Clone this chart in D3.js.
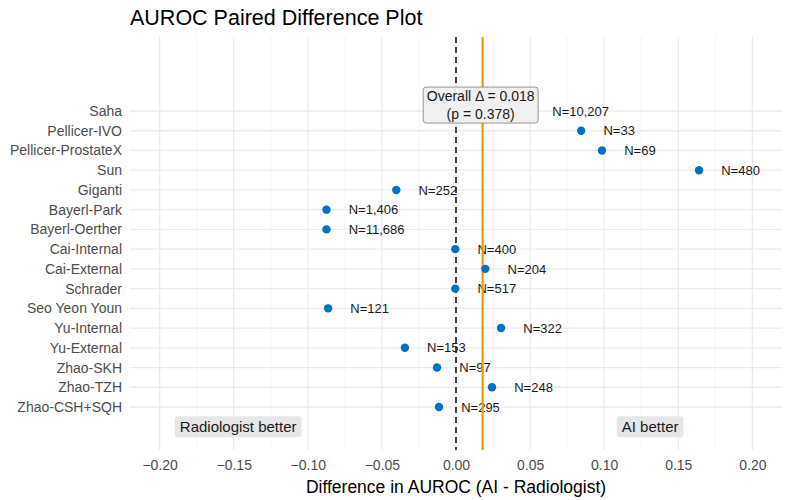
<!DOCTYPE html>
<html>
<head>
<meta charset="utf-8">
<script src="https://cdn.jsdelivr.net/npm/d3@7"></script>
<style>
  html, body { margin: 0; padding: 0; background: #fff; }
  svg { display: block; font-family: "Liberation Sans", Arial, sans-serif; }
</style>
</head>
<body>
<svg id="chart" width="794" height="500"></svg>
<script>
// ---- data ----
const studies = ["Saha", "Pellicer-IVO", "Pellicer-ProstateX", "Sun", "Giganti", "Bayerl-Park",
  "Bayerl-Oerther", "Cai-Internal", "Cai-External", "Schrader", "Seo Yeon Youn", "Yu-Internal",
  "Yu-External", "Zhao-SKH", "Zhao-TZH", "Zhao-CSH+SQH"];
const diffs = [0.050, 0.0845, 0.0985, 0.164, -0.0403, -0.0874, -0.0874, -0.0005, 0.0198, -0.0005,
  -0.0863, 0.0304, -0.0345, -0.0128, 0.0243, -0.0115];
const sampleLabels = ["N=10,207", "N=33", "N=69", "N=480", "N=252", "N=1,406", "N=11,686", "N=400",
  "N=204", "N=517", "N=121", "N=322", "N=153", "N=97", "N=248", "N=295"];
const xTicks = [-0.20, -0.15, -0.10, -0.05, 0.00, 0.05, 0.10, 0.15, 0.20];
const xMinorTicks = [-0.175, -0.125, -0.075, -0.025, 0.025, 0.075, 0.125, 0.175];
const overallDelta = 0.018;
const overallP = 0.378;
const sideLabels = [{text: "Radiologist better", x: -0.147}, {text: "AI better", x: 0.131}];

// ---- layout ----
const svg = d3.select("#chart");
const panel = {left: 130, right: 782, top: 37, bottom: 450};

const x = d3.scaleLinear().domain([-0.22, 0.22]).range([panel.left, panel.right]);
const y = d3.scalePoint().domain(studies).range([111, 407]);
// continuous position scale (1 = bottom category, 16 = top category)
const yPos = d3.scaleLinear().domain([1, studies.length]).range([407, 111]);

const data = studies.map((s, i) => ({study: s, diff: diffs[i], label: sampleLabels[i]}));

// gridlines
const g = svg.append("g");
g.selectAll(".minor").data(xMinorTicks).join("line")
  .attr("x1", d => x(d)).attr("x2", d => x(d))
  .attr("y1", panel.top).attr("y2", panel.bottom)
  .attr("stroke", "#f1f1f1").attr("stroke-width", 0.8);
g.selectAll(".major").data(xTicks).join("line")
  .attr("x1", d => x(d)).attr("x2", d => x(d))
  .attr("y1", panel.top).attr("y2", panel.bottom)
  .attr("stroke", "#ebebeb").attr("stroke-width", 1.3);
g.selectAll(".hgrid").data(studies).join("line")
  .attr("x1", panel.left).attr("x2", panel.right)
  .attr("y1", d => y(d)).attr("y2", d => y(d))
  .attr("stroke", "#ebebeb").attr("stroke-width", 1.3);

// x axis tick labels
const xAxis = d3.axisBottom(x).tickValues(xTicks).tickFormat(d3.format(".2f")).tickSize(0).tickPadding(0);
const xa = svg.append("g").attr("transform", `translate(0,${panel.bottom + 9})`).call(xAxis);
xa.select(".domain").remove();
xa.selectAll("text").attr("font-size", 14).attr("fill", "#4d4d4d")
  .attr("font-family", "Liberation Sans, Arial, sans-serif").attr("dy", "0.75em");

// y axis labels
const yAxis = d3.axisLeft(y).tickSize(0).tickPadding(8);
const ya = svg.append("g").attr("transform", `translate(${panel.left},0)`).call(yAxis);
ya.select(".domain").remove();
ya.selectAll("text").attr("font-size", 14).attr("fill", "#4d4d4d")
  .attr("font-family", "Liberation Sans, Arial, sans-serif");

// N labels
svg.append("g").selectAll("text").data(data).join("text")
  .attr("x", d => x(d.diff + 0.015)).attr("y", d => y(d.study))
  .attr("dy", "0.36em").attr("font-size", 13).attr("fill", "#1a1a1a")
  .text(d => d.label);

// reference lines
svg.append("line").attr("x1", x(0)).attr("x2", x(0))
  .attr("y1", panel.top).attr("y2", panel.bottom)
  .attr("stroke", "#1a1a1a").attr("stroke-width", 1.6).attr("stroke-dasharray", "6,4");
svg.append("line").attr("x1", x(overallDelta)).attr("x2", x(overallDelta))
  .attr("y1", panel.top).attr("y2", panel.bottom)
  .attr("stroke", "#E69F00").attr("stroke-width", 2.2);

// points
svg.append("g").selectAll("circle").data(data).join("circle")
  .attr("cx", d => x(d.diff)).attr("cy", d => y(d.study)).attr("r", 4.2)
  .attr("fill", "#0072C6");

// overall label box
const ob = svg.append("g");
const obx = x(overallDelta) - 2, oby = yPos(16.3);
ob.append("rect").attr("x", obx - 57.5).attr("y", oby - 18).attr("width", 115).attr("height", 36)
  .attr("rx", 3).attr("fill", "#f0f0f0").attr("stroke", "#7f7f7f").attr("stroke-width", 0.8);
ob.append("text").attr("x", obx).attr("y", oby - 4.5).attr("text-anchor", "middle")
  .attr("font-size", 14).attr("fill", "#1a1a1a").text(`Overall Δ = ${overallDelta.toFixed(3)}`);
ob.append("text").attr("x", obx).attr("y", oby + 14).attr("text-anchor", "middle")
  .attr("font-size", 14).attr("fill", "#1a1a1a").text(`(p = ${overallP.toFixed(3)})`);

// side labels
sideLabels.forEach(s => {
  const gg = svg.append("g");
  const t = gg.append("text").attr("x", x(s.x)).attr("y", yPos(0)).attr("dy", "0.36em")
    .attr("text-anchor", "middle").attr("font-size", 15).attr("fill", "#1a1a1a").text(s.text);
  const bb = t.node().getBBox();
  gg.insert("rect", "text").attr("x", bb.x - 5).attr("y", yPos(0) - 10.5)
    .attr("width", bb.width + 10).attr("height", 21).attr("rx", 3).attr("fill", "#e6e6e6");
});

// title & axis title
svg.append("text").attr("x", panel.left).attr("y", 25).attr("font-size", 21.5).attr("fill", "#000")
  .text("AUROC Paired Difference Plot");
svg.append("text").attr("x", (panel.left + panel.right) / 2).attr("y", 493)
  .attr("text-anchor", "middle").attr("font-size", 17.5).attr("fill", "#000")
  .text("Difference in AUROC (AI - Radiologist)");
</script>
</body>
</html>
